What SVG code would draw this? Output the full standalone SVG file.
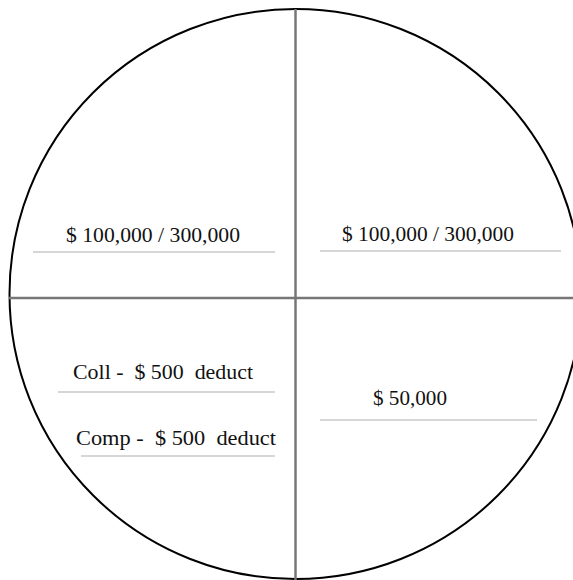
<svg xmlns="http://www.w3.org/2000/svg" width="573" height="580" viewBox="0 0 573 580">
<style>
.t{font-family:"Liberation Serif","Times New Roman",serif;font-size:22px;fill:#111;white-space:pre}
.u{stroke:#c8c8c8;stroke-width:1.5;fill:none}
.ax{stroke:#777;stroke-width:2.5;fill:none}
</style>
<rect width="573" height="580" fill="#fff"/>
<g id="circle">
<ellipse cx="295.5" cy="294" rx="286" ry="285" fill="none" stroke="#000" stroke-width="2"/>
</g>
<g id="connectors">
<line class="ax" x1="295.5" y1="9" x2="295.5" y2="580"/>
<line class="ax" x1="9" y1="298" x2="573" y2="298"/>
</g>
<g id="q1">
<text class="t" x="66" y="242" textLength="174" lengthAdjust="spacingAndGlyphs" xml:space="preserve">$ 100,000 / 300,000</text>
<line class="u" x1="33" y1="252" x2="275" y2="252"/>
</g>
<g id="q2">
<text class="t" x="342" y="241" textLength="172" lengthAdjust="spacingAndGlyphs" xml:space="preserve">$ 100,000 / 300,000</text>
<line class="u" x1="320" y1="251" x2="561" y2="251"/>
</g>
<g id="q3">
<text class="t" x="73" y="379" textLength="180" lengthAdjust="spacingAndGlyphs" xml:space="preserve">Coll -  $ 500  deduct</text>
<line class="u" x1="58" y1="392" x2="275" y2="392"/>
<text class="t" x="76" y="445" textLength="200" lengthAdjust="spacingAndGlyphs" xml:space="preserve">Comp -  $ 500  deduct</text>
<line class="u" x1="81" y1="456" x2="275" y2="456"/>
</g>
<g id="q4">
<text class="t" x="373" y="405" textLength="74" lengthAdjust="spacingAndGlyphs" xml:space="preserve">$ 50,000</text>
<line class="u" x1="320" y1="420" x2="537" y2="420"/>
</g>
</svg>
